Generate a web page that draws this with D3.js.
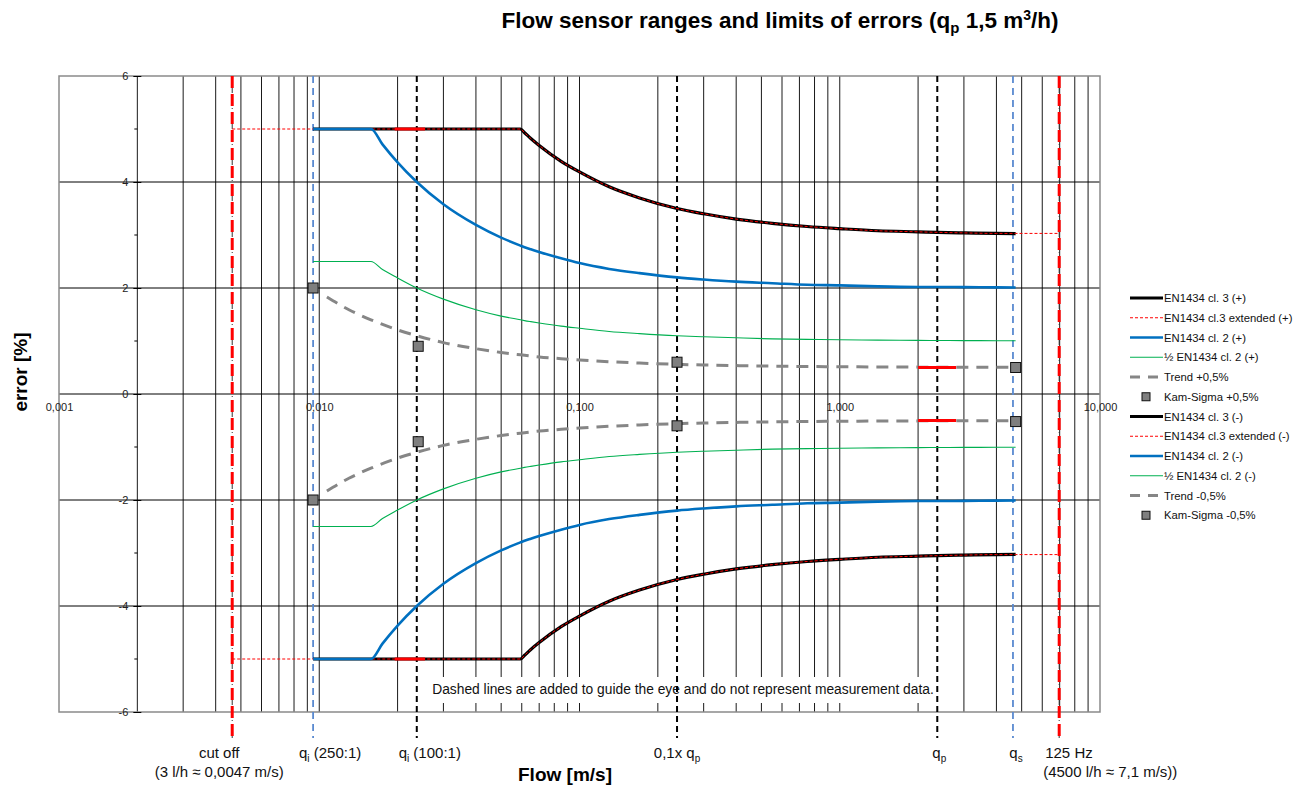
<!DOCTYPE html>
<html><head><meta charset="utf-8">
<script src="https://cdn.jsdelivr.net/npm/d3@7"></script>
<style>
body{margin:0;background:#fff}
svg{font-family:"Liberation Sans",Arial,Helvetica,sans-serif}
</style>
</head><body>
<svg id="chart" width="1307" height="787"></svg>
<script>
// ---------------- DATA ----------------
const flows = [0.00947,0.0120,0.0140,0.0158,0.0175,0.020,0.0237,0.030,0.040,0.050,0.0593,0.0615,0.065,0.070,0.085,0.10,0.13,0.17,0.237,0.30,0.40,0.55,0.75,1.0,1.4,2.0,2.37,3.0,4.0,4.74];
const cl3Plus  = [5,5,5,5,5,5,5,5,5,5,5.00,4.93,4.82,4.69,4.39,4.19,3.91,3.70,3.50,3.40,3.30,3.22,3.16,3.12,3.08,3.06,3.05,3.04,3.03,3.025];
const cl3Minus = [-5,-5,-5,-5,-5,-5,-5,-5,-5,-5,-5.00,-4.93,-4.82,-4.69,-4.39,-4.19,-3.91,-3.70,-3.50,-3.40,-3.30,-3.22,-3.16,-3.12,-3.08,-3.06,-3.05,-3.04,-3.03,-3.025];
const cl2Plus  = [5,5,5,5.0,4.71,4.37,4.00,3.58,3.19,2.95,2.80,2.77,2.73,2.68,2.56,2.47,2.36,2.28,2.20,2.16,2.12,2.09,2.06,2.05,2.03,2.02,2.02,2.016,2.012,2.01];
const cl2Minus = [-5,-5,-5,-5.0,-4.71,-4.37,-4.00,-3.58,-3.19,-2.95,-2.80,-2.77,-2.73,-2.68,-2.56,-2.47,-2.36,-2.28,-2.20,-2.16,-2.12,-2.09,-2.06,-2.05,-2.03,-2.02,-2.02,-2.016,-2.012,-2.01];
const halfCl2Plus  = [2.5,2.5,2.5,2.5,2.35,2.19,2.00,1.79,1.59,1.47,1.40,1.385,1.365,1.34,1.28,1.24,1.18,1.14,1.10,1.08,1.06,1.04,1.03,1.024,1.017,1.012,1.01,1.008,1.006,1.005];
const halfCl2Minus = [-2.5,-2.5,-2.5,-2.5,-2.35,-2.19,-2.00,-1.79,-1.59,-1.47,-1.40,-1.385,-1.365,-1.34,-1.28,-1.24,-1.18,-1.14,-1.10,-1.08,-1.06,-1.04,-1.03,-1.024,-1.017,-1.012,-1.01,-1.008,-1.006,-1.005];

// cl.3 extended (cut off ... 125 Hz)
const extFlows = [0.00463,0.00947,0.0120,0.0140,0.0158,0.0175,0.020,0.0237,0.030,0.040,0.050,0.0593,0.0615,0.065,0.070,0.085,0.10,0.13,0.17,0.237,0.30,0.40,0.55,0.75,1.0,1.4,2.0,2.37,3.0,4.0,4.74,6.97];
const extPlus  = [5,5,5,5,5,5,5,5,5,5,5,5.00,4.93,4.82,4.69,4.39,4.19,3.91,3.70,3.50,3.40,3.30,3.22,3.16,3.12,3.08,3.06,3.05,3.04,3.03,3.03,3.03];
const extMinus = [-5,-5,-5,-5,-5,-5,-5,-5,-5,-5,-5,-5.00,-4.93,-4.82,-4.69,-4.39,-4.19,-3.91,-3.70,-3.50,-3.40,-3.30,-3.22,-3.16,-3.12,-3.08,-3.06,-3.05,-3.04,-3.03,-3.03,-3.03];

// Trend lines
const trendFlows = [0.0107,0.013,0.0158,0.020,0.0237,0.030,0.040,0.050,0.0593,0.070,0.085,0.10,0.13,0.17,0.237,0.30,0.40,0.55,0.75,1.0,1.4,2.0,2.37,3.0,4.0,4.55];
const trendPlus  = [1.83,1.59,1.40,1.21,1.10,0.97,0.855,0.784,0.74,0.70,0.667,0.642,0.609,0.584,0.56,0.547,0.536,0.526,0.519,0.514,0.51,0.507,0.506,0.505,0.504,0.503];
const trendMinus = [-1.83,-1.59,-1.40,-1.21,-1.10,-0.97,-0.855,-0.784,-0.74,-0.70,-0.667,-0.642,-0.609,-0.584,-0.56,-0.547,-0.536,-0.526,-0.519,-0.514,-0.51,-0.507,-0.506,-0.505,-0.504,-0.503];

// Kam-Sigma measurement points
const sigmaFlows = [0.00947,0.0240,0.237,4.74];
const sigmaPlus  = [2.0,0.90,0.60,0.50];
const sigmaMinus = [-2.0,-0.90,-0.60,-0.52];

// short red segments
const redSegFrom = [0.0195,0.0195,2.0,2.0];
const redSegTo   = [0.0255,0.0255,2.8,2.8];
const redSegErr  = [5,-5,0.5,-0.5];

// reference flows (vertical lines)
const refFlows  = [0.00463,0.00947,0.0237,0.237,2.37,4.63,6.97];
const refKinds  = ["red","blue","black","black","black","blue","red"];

const xTickValues = [0.001,0.01,0.1,1,10];
const xTickLabels = ["0,001","0,010","0,100","1,000","10,000"];
const yTickValues = [6,4,2,0,-2,-4,-6];

const legendLabels = ["EN1434 cl. 3 (+)","EN1434 cl.3 extended (+)","EN1434 cl. 2 (+)","½ EN1434 cl. 2 (+)","Trend +0,5%","Kam-Sigma +0,5%",
                      "EN1434 cl. 3 (-)","EN1434 cl.3 extended (-)","EN1434 cl. 2 (-)","½ EN1434 cl. 2 (-)","Trend -0,5%","Kam-Sigma -0,5%"];
const legendKinds  = ["cl3","ext","cl2","half","trend","sigma","cl3","ext","cl2","half","trend","sigma"];

// ---------------- DRAWING ----------------
const svg = d3.select("#chart");
const L = 59, R = 1100, T = 76, B = 712;
const x = d3.scaleLog().domain([0.001,10]).range([L,R]);
const y = d3.scaleLinear().domain([-6,6]).range([B,T]);

const styles = {
  cl3:   {stroke:"#000", width:3.2, dash:null},
  ext:   {stroke:"#ff0000", width:1, dash:"3,2"},
  cl2:   {stroke:"#0070c0", width:2.6, dash:null},
  half:  {stroke:"#00b050", width:1.1, dash:null},
  trend: {stroke:"#868686", width:3, dash:"12,8"}
};

// vertical grid
const gridX = x.ticks().filter(v => v > 0.0011 && v < 9.9);
svg.append("g").selectAll("line").data(gridX).join("line")
  .attr("x1", d => x(d)).attr("x2", d => x(d)).attr("y1", T).attr("y2", B)
  .attr("stroke", "#1a1a1a").attr("stroke-width", 1);
// horizontal grid
svg.append("g").selectAll("line").data([4,2,0,-2,-4]).join("line")
  .attr("x1", L).attr("x2", R).attr("y1", d => y(d)).attr("y2", d => y(d))
  .attr("stroke", "#000").attr("stroke-width", 1);
// frame
svg.append("rect").attr("x", L).attr("y", T).attr("width", R-L).attr("height", B-T)
  .attr("fill", "none").attr("stroke", "#8a8a8a").attr("stroke-width", 1.5);

// y axis (crossing at 0.002)
const yAxis = d3.axisLeft(y).tickValues(yTickValues).tickSize(4).tickPadding(5).tickFormat(d => String(d));
const yg = svg.append("g").attr("transform", `translate(${x(0.002)},0)`).call(yAxis);
yg.select(".domain").remove();
yg.selectAll(".tick line").attr("stroke", "#000").attr("x2", -4).attr("x1", 4);
yg.selectAll("text").attr("font-size", 11).attr("font-family", "Liberation Sans, Arial, sans-serif").attr("fill", "#222");
// minor y ticks
svg.append("g").selectAll("line").data([5,3,1,-1,-3,-5]).join("line")
  .attr("x1", x(0.002)-3).attr("x2", x(0.002)).attr("y1", d => y(d)).attr("y2", d => y(d)).attr("stroke", "#000");

// x axis labels (at error = 0)
const xAxis = d3.axisBottom(x).tickValues(xTickValues).tickSize(0).tickPadding(9)
  .tickFormat(d => xTickLabels[xTickValues.indexOf(d)]);
const xg = svg.append("g").attr("transform", `translate(0,${y(0)})`).call(xAxis);
xg.select(".domain").remove();
xg.selectAll("text").attr("font-size", 11).attr("font-family", "Liberation Sans, Arial, sans-serif").attr("fill", "#222");

// note box
const noteG = svg.append("g");
const noteText = noteG.append("text").attr("x", 683).attr("y", 694).attr("text-anchor", "middle")
  .attr("font-size", 13.8).attr("fill", "#111")
  .text("Dashed lines are added to guide the eye and do not represent measurement data.");
const bb = noteText.node().getBBox();
noteG.insert("rect", "text").attr("x", bb.x-5).attr("y", 677).attr("width", bb.width+10).attr("height", 26).attr("fill", "#fff");

// vertical reference lines
const refG = svg.append("g");
refFlows.forEach((q,i) => {
  const k = refKinds[i], xx = x(q);
  if (k === "red") {
    refG.append("line").attr("x1", xx).attr("x2", xx).attr("y1", T).attr("y2", 738)
      .attr("stroke", "#333").attr("stroke-width", 1).attr("stroke-dasharray", "5,3,1,3");
    refG.append("line").attr("x1", xx).attr("x2", xx).attr("y1", T).attr("y2", 738)
      .attr("stroke", "#ff0000").attr("stroke-width", 3).attr("stroke-dasharray", "12,6");
  } else if (k === "blue") {
    refG.append("line").attr("x1", xx).attr("x2", xx).attr("y1", T).attr("y2", 738)
      .attr("stroke", "#5a8ad0").attr("stroke-width", 1.8).attr("stroke-dasharray", "7,5");
  } else {
    refG.append("line").attr("x1", xx).attr("x2", xx).attr("y1", T).attr("y2", 738)
      .attr("stroke", "#000").attr("stroke-width", 2).attr("stroke-dasharray", "6,4");
  }
});

// curves
const line = d3.line().x(d => x(d[0])).y(d => y(d[1])).curve(d3.curveMonotoneX);
function drawSeries(fl, vals, kind) {
  const s = styles[kind];
  svg.append("path").datum(fl.map((f,i) => [f, vals[i]]))
    .attr("d", line).attr("fill", "none").attr("stroke", s.stroke)
    .attr("stroke-width", s.width).attr("stroke-dasharray", s.dash)
    .attr("stroke-linejoin", "round");
}
drawSeries(flows, cl3Plus, "cl3");
drawSeries(flows, cl3Minus, "cl3");
drawSeries(extFlows, extPlus, "ext");
drawSeries(extFlows, extMinus, "ext");
drawSeries(flows, cl2Plus, "cl2");
drawSeries(flows, cl2Minus, "cl2");
drawSeries(flows, halfCl2Plus, "half");
drawSeries(flows, halfCl2Minus, "half");
drawSeries(trendFlows, trendPlus, "trend");
drawSeries(trendFlows, trendMinus, "trend");

// red short segments
svg.append("g").selectAll("line").data(redSegErr).join("line")
  .attr("x1", (d,i) => x(redSegFrom[i])).attr("x2", (d,i) => x(redSegTo[i]))
  .attr("y1", d => y(d)).attr("y2", d => y(d))
  .attr("stroke", "#ff0000").attr("stroke-width", 3);

// Kam-Sigma markers
const mk = 10;
function drawMarkers(vals) {
  svg.append("g").selectAll("rect").data(vals).join("rect")
    .attr("x", (d,i) => x(sigmaFlows[i]) - mk/2).attr("y", d => y(d) - mk/2)
    .attr("width", mk).attr("height", mk)
    .attr("fill", "#7f7f7f").attr("stroke", "#111").attr("stroke-width", 1);
}
drawMarkers(sigmaPlus);
drawMarkers(sigmaMinus);

// title
const title = svg.append("text").attr("x", 780).attr("y", 28).attr("text-anchor", "middle")
  .attr("font-size", 22.5).attr("font-weight", "bold").attr("fill", "#000");
title.append("tspan").text("Flow sensor ranges and limits of errors (q");
title.append("tspan").attr("font-size", 15).attr("dy", 5).text("p");
title.append("tspan").attr("dy", -5).text(" 1,5 m");
title.append("tspan").attr("font-size", 14).attr("dy", -8).text("3");
title.append("tspan").attr("dy", 8).text("/h)");

// axis titles
svg.append("text").attr("transform", "translate(27,372) rotate(-90)").attr("text-anchor", "middle")
  .attr("font-size", 19).attr("font-weight", "bold").text("error [%]");
svg.append("text").attr("x", 565).attr("y", 781).attr("text-anchor", "middle")
  .attr("font-size", 19).attr("font-weight", "bold").text("Flow [m/s]");

// bottom reference labels
function qLabel(cx, sub, rest, anchor) {
  const t = svg.append("text").attr("x", cx).attr("y", 758).attr("text-anchor", anchor || "middle")
    .attr("font-size", 15).attr("fill", "#111");
  t.append("tspan").text("q");
  t.append("tspan").attr("font-size", 10).attr("dy", 4).text(sub);
  t.append("tspan").attr("dy", -4).text(rest);
  return t;
}
svg.append("text").attr("x", x(refFlows[0]) - 13).attr("y", 758).attr("text-anchor", "middle")
  .attr("font-size", 15).attr("fill", "#111").text("cut off");
svg.append("text").attr("x", x(refFlows[0]) - 13).attr("y", 777).attr("text-anchor", "middle")
  .attr("font-size", 15).attr("fill", "#111").text("(3 l/h ≈ 0,0047 m/s)");
qLabel(x(refFlows[1]) + 17, "i", " (250:1)");
qLabel(x(refFlows[2]) + 13, "i", " (100:1)");
{
  const t = svg.append("text").attr("x", x(refFlows[3])).attr("y", 758).attr("text-anchor", "middle")
    .attr("font-size", 15).attr("fill", "#111");
  t.append("tspan").text("0,1x q");
  t.append("tspan").attr("font-size", 10).attr("dy", 4).text("p");
}
qLabel(x(refFlows[4]) + 2, "p", "");
qLabel(x(refFlows[5]) + 3, "s", "");
svg.append("text").attr("x", x(refFlows[6]) - 14).attr("y", 758)
  .attr("font-size", 15).attr("fill", "#111").text("125 Hz");
svg.append("text").attr("x", x(refFlows[6]) - 16).attr("y", 777)
  .attr("font-size", 15).attr("fill", "#111").text("(4500 l/h ≈ 7,1 m/s))");

// legend
const lg = svg.append("g").attr("transform", "translate(1130,298)");
legendLabels.forEach((lab,i) => {
  const k = legendKinds[i], yy = i * 19.75;
  if (k === "sigma") {
    lg.append("rect").attr("x", 12).attr("y", yy-4).attr("width", 8).attr("height", 8)
      .attr("fill", "#7f7f7f").attr("stroke", "#111");
  } else if (k === "trend") {
    lg.append("line").attr("x1", 0).attr("x2", 33).attr("y1", yy).attr("y2", yy)
      .attr("stroke", styles.trend.stroke).attr("stroke-width", 3).attr("stroke-dasharray", "10,8");
  } else {
    const s = styles[k];
    lg.append("line").attr("x1", 0).attr("x2", 33).attr("y1", yy).attr("y2", yy)
      .attr("stroke", s.stroke).attr("stroke-width", s.width).attr("stroke-dasharray", s.dash);
  }
  lg.append("text").attr("x", 34).attr("y", yy + 4).attr("font-size", 11.3).attr("fill", "#111").text(lab);
});
</script>
</body></html>
